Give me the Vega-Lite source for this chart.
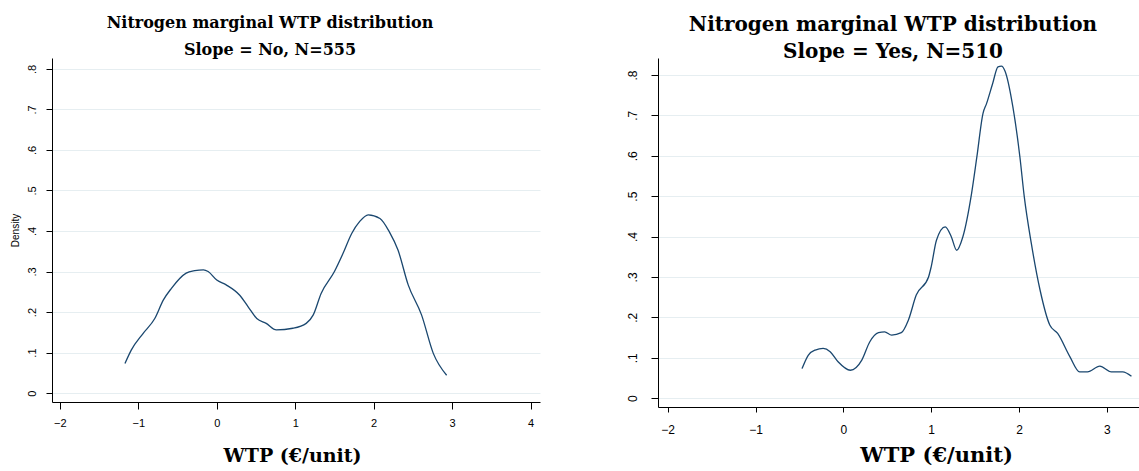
{
  "$schema": "https://vega.github.io/schema/vega-lite/v6.json",
  "background": "white",
  "padding": {"left": 10, "top": 15, "right": 0, "bottom": 0},
  "spacing": 85,
  "config": {
    "view": {"stroke": null},
    "axis": {
      "domainColor": "#000000",
      "domainWidth": 1,
      "tickColor": "#000000",
      "tickWidth": 1,
      "labelFont": "Liberation Sans",
      "labelColor": "#000000",
      "gridColor": "#e6eef1",
      "gridWidth": 1,
      "titleColor": "#000000"
    }
  },
  "datasets": {
    "slopeNo": [
      {"wtp": -1.17, "density": 0.073},
      {"wtp": -1.09, "density": 0.106},
      {"wtp": -0.94, "density": 0.147},
      {"wtp": -0.79, "density": 0.184},
      {"wtp": -0.68, "density": 0.23},
      {"wtp": -0.58, "density": 0.258},
      {"wtp": -0.39, "density": 0.296},
      {"wtp": -0.28, "density": 0.302},
      {"wtp": -0.17, "density": 0.304},
      {"wtp": -0.11, "density": 0.3},
      {"wtp": 0.0, "density": 0.279},
      {"wtp": 0.12, "density": 0.267},
      {"wtp": 0.29, "density": 0.242},
      {"wtp": 0.4, "density": 0.213},
      {"wtp": 0.51, "density": 0.184},
      {"wtp": 0.63, "density": 0.172},
      {"wtp": 0.76, "density": 0.156},
      {"wtp": 0.97, "density": 0.16},
      {"wtp": 1.14, "density": 0.172},
      {"wtp": 1.23, "density": 0.193},
      {"wtp": 1.33, "density": 0.246},
      {"wtp": 1.5, "density": 0.3},
      {"wtp": 1.61, "density": 0.345},
      {"wtp": 1.72, "density": 0.394},
      {"wtp": 1.82, "density": 0.423},
      {"wtp": 1.93, "density": 0.44},
      {"wtp": 2.08, "density": 0.431},
      {"wtp": 2.2, "density": 0.398},
      {"wtp": 2.31, "density": 0.353},
      {"wtp": 2.44, "density": 0.267},
      {"wtp": 2.61, "density": 0.193},
      {"wtp": 2.76, "density": 0.098},
      {"wtp": 2.93, "density": 0.044}
    ],
    "slopeYes": [
      {"wtp": -0.47, "density": 0.073},
      {"wtp": -0.4, "density": 0.106},
      {"wtp": -0.32, "density": 0.119},
      {"wtp": -0.23, "density": 0.123},
      {"wtp": -0.15, "density": 0.115},
      {"wtp": -0.06, "density": 0.09},
      {"wtp": 0.08, "density": 0.069},
      {"wtp": 0.21, "density": 0.094},
      {"wtp": 0.3, "density": 0.139},
      {"wtp": 0.4, "density": 0.162},
      {"wtp": 0.47, "density": 0.164},
      {"wtp": 0.55, "density": 0.156},
      {"wtp": 0.66, "density": 0.162},
      {"wtp": 0.74, "density": 0.193},
      {"wtp": 0.83, "density": 0.255},
      {"wtp": 0.97, "density": 0.3},
      {"wtp": 1.0, "density": 0.325},
      {"wtp": 1.06, "density": 0.391},
      {"wtp": 1.16, "density": 0.424},
      {"wtp": 1.23, "density": 0.399},
      {"wtp": 1.29, "density": 0.366},
      {"wtp": 1.36, "density": 0.399},
      {"wtp": 1.46, "density": 0.507},
      {"wtp": 1.52, "density": 0.597},
      {"wtp": 1.59, "density": 0.705},
      {"wtp": 1.63, "density": 0.729},
      {"wtp": 1.7, "density": 0.779},
      {"wtp": 1.76, "density": 0.82},
      {"wtp": 1.8, "density": 0.822},
      {"wtp": 1.84, "density": 0.81},
      {"wtp": 1.93, "density": 0.721},
      {"wtp": 2.01, "density": 0.597},
      {"wtp": 2.06, "density": 0.498},
      {"wtp": 2.14, "density": 0.383},
      {"wtp": 2.24, "density": 0.267},
      {"wtp": 2.35, "density": 0.181},
      {"wtp": 2.44, "density": 0.16},
      {"wtp": 2.58, "density": 0.102},
      {"wtp": 2.69, "density": 0.065},
      {"wtp": 2.78, "density": 0.065},
      {"wtp": 2.92, "density": 0.079},
      {"wtp": 3.05, "density": 0.065},
      {"wtp": 3.18, "density": 0.065},
      {"wtp": 3.28, "density": 0.054}
    ]
  },
  "hconcat": [
    {
      "width": 488,
      "height": 344,
      "title": {
        "text": ["Nitrogen marginal WTP distribution", "Slope = No, N=555"],
        "font": "DejaVu Serif",
        "fontWeight": "bold",
        "fontSize": 16,
        "lineHeight": 27,
        "offset": 3,
        "dy": 3,
        "dx": -26,
        "anchor": "middle",
        "color": "#000000"
      },
      "data": {"name": "slopeNo"},
      "mark": {"type": "line", "color": "#1a476f", "strokeWidth": 1.3, "interpolate": "monotone"},
      "encoding": {
        "x": {
          "field": "wtp",
          "type": "quantitative",
          "scale": {"domain": [-2.1, 4.12], "nice": false, "zero": false},
          "axis": {
            "values": [-2, -1, 0, 1, 2, 3, 4],
            "grid": false,
            "title": "WTP (€/unit)",
            "titleFont": "DejaVu Serif",
            "titleFontWeight": "bold",
            "titleFontSize": 19,
            "titleX": 240,
            "titleY": 53,
            "titleBaseline": "middle",
            "labelFontSize": 11,
            "labelPadding": 8,
            "tickSize": 7
          }
        },
        "y": {
          "field": "density",
          "type": "quantitative",
          "scale": {"domain": [-0.022, 0.827], "nice": false, "zero": false},
          "axis": {
            "values": [0, 0.1, 0.2, 0.3, 0.4, 0.5, 0.6, 0.7, 0.8],
            "labelExpr": "datum.value == 0 ? '0' : replace(format(datum.value, '.1f'), '0.', '.')",
            "labelAngle": -90,
            "labelFontSize": 11,
            "labelPadding": 9,
            "tickSize": 6,
            "grid": true,
            "title": "Density",
            "titleFont": "Liberation Sans",
            "titleFontWeight": "normal",
            "titleFontSize": 10,
            "titlePadding": 6
          }
        }
      }
    },
    {
      "width": 484,
      "height": 349,
      "title": {
        "text": ["Nitrogen marginal WTP distribution", "Slope = Yes, N=510"],
        "font": "DejaVu Serif",
        "fontWeight": "bold",
        "fontSize": 20,
        "lineHeight": 27,
        "offset": 0,
        "dy": 4,
        "dx": -7,
        "anchor": "middle",
        "color": "#000000"
      },
      "data": {"name": "slopeYes"},
      "mark": {"type": "line", "color": "#1a476f", "strokeWidth": 1.3, "interpolate": "monotone"},
      "encoding": {
        "x": {
          "field": "wtp",
          "type": "quantitative",
          "scale": {"domain": [-2.11, 3.4], "nice": false, "zero": false},
          "axis": {
            "values": [-2, -1, 0, 1, 2, 3],
            "grid": false,
            "title": "WTP (€/unit)",
            "titleFont": "DejaVu Serif",
            "titleFontWeight": "bold",
            "titleFontSize": 21,
            "titleX": 278,
            "titleY": 48,
            "titleBaseline": "middle",
            "labelFontSize": 12,
            "labelPadding": 12,
            "tickSize": 5
          }
        },
        "y": {
          "field": "density",
          "type": "quantitative",
          "scale": {"domain": [-0.022, 0.842], "nice": false, "zero": false},
          "axis": {
            "values": [0, 0.1, 0.2, 0.3, 0.4, 0.5, 0.6, 0.7, 0.8],
            "labelExpr": "datum.value == 0 ? '0' : replace(format(datum.value, '.1f'), '0.', '.')",
            "labelAngle": -90,
            "labelFontSize": 12,
            "labelPadding": 12,
            "tickSize": 7,
            "grid": true,
            "title": null
          }
        }
      }
    }
  ]
}
